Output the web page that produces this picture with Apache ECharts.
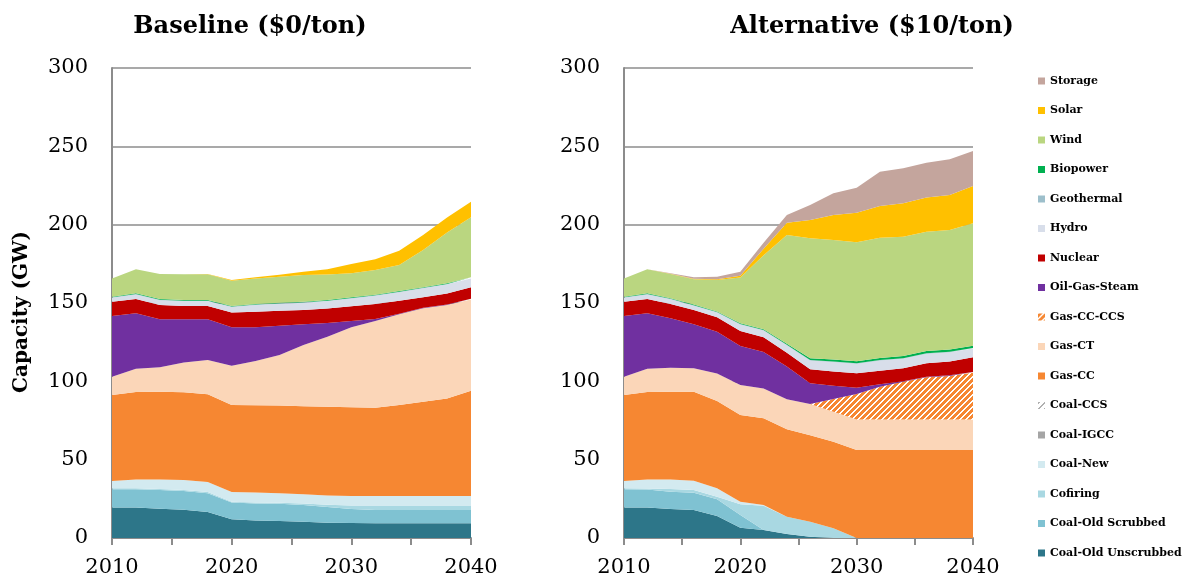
<!DOCTYPE html>
<html>
<head>
<meta charset="utf-8">
<title>Capacity (GW)</title>
<script src="https://cdn.jsdelivr.net/npm/echarts@6/dist/echarts.min.js"></script>
<style>
  html, body { margin: 0; padding: 0; background: #fff; }
  #chart { width: 1188px; height: 581px; }
</style>
</head>
<body>
<div id="chart"></div>
<script>
// Model years, every two years
const years = [2010, 2012, 2014, 2016, 2018, 2020, 2022, 2024, 2026, 2028, 2030, 2032, 2034, 2036, 2038, 2040];
const zeros = years.map(() => 0);

// Baseline ($0/ton) capacity by technology, GW
const unscrubbedBase = [19.4, 19.4, 18.7, 18.1, 16.6, 11.9, 11.1, 10.9, 10.4, 9.8, 9.6, 9.4, 9.4, 9.4, 9.4, 9.4];
const scrubbedBase   = [11.7, 11.7, 11.9, 11.9, 11.9, 10.8, 11.0, 11.0, 10.6, 10.0, 8.9, 8.5, 8.5, 8.5, 8.5, 8.5];
const cofiringBase   = [0.6, 0.6, 0.6, 0.7, 0.8, 0.5, 0.5, 0.6, 1.0, 1.5, 2.3, 2.9, 2.9, 2.9, 2.9, 2.9];
const coalNewBase    = [4.7, 5.7, 6.2, 6.3, 6.4, 6.2, 6.4, 6.0, 5.9, 5.9, 6.0, 6.0, 6.0, 6.0, 6.0, 6.0];
const igccBase       = zeros;
const coalCcsBase    = zeros;
const gasCcBase      = [54.9, 55.8, 56.0, 56.0, 56.0, 55.5, 55.7, 56.0, 56.2, 56.6, 56.6, 56.4, 58.1, 60.2, 62.3, 67.2];
const gasCtBase      = [11.7, 14.8, 15.6, 19.0, 21.9, 25.1, 28.3, 32.3, 39.1, 44.7, 51.1, 55.3, 57.9, 59.6, 59.6, 58.3];
const gasCcsBase     = zeros;
const ogsBase        = [38.7, 35.4, 30.6, 27.6, 26.0, 24.5, 21.5, 18.7, 13.2, 8.8, 4.0, 1.3, 0.4, 0.3, 0.4, 0.4];
const nuclearBase    = [9.1, 9.1, 9.1, 8.5, 8.5, 9.5, 9.9, 9.5, 9.1, 9.2, 9.5, 9.5, 8.2, 6.8, 7.0, 7.4];
const hydroBase      = [2.5, 3.0, 3.1, 3.1, 3.1, 3.4, 4.3, 4.5, 4.6, 4.7, 4.9, 5.3, 5.5, 5.7, 5.8, 5.6];
const geoBase        = [0.3, 0.3, 0.3, 0.3, 0.3, 0.3, 0.3, 0.3, 0.3, 0.3, 0.3, 0.3, 0.3, 0.3, 0.3, 0.3];
const bioBase        = [0.4, 0.4, 0.4, 0.4, 0.4, 0.4, 0.4, 0.4, 0.4, 0.4, 0.4, 0.4, 0.4, 0.4, 0.4, 0.4];
const windBase       = [11.7, 15.3, 16.0, 16.4, 16.4, 16.1, 16.3, 16.6, 17.1, 16.3, 15.4, 15.7, 16.7, 23.7, 32.4, 38.3];
const solarBase      = [0, 0, 0, 0, 0.2, 0.5, 0.8, 1.3, 2.0, 3.3, 5.9, 6.9, 9.1, 9.6, 9.5, 10.0];
const storageBase    = zeros;

// Alternative ($10/ton) capacity by technology, GW
const unscrubbedAlt = [19.4, 19.4, 18.5, 17.9, 14.0, 6.6, 5.1, 2.6, 0.8, 0, 0, 0, 0, 0, 0, 0];
const scrubbedAlt   = [11.7, 11.5, 11.1, 11.0, 10.7, 8.1, 0, 0, 0, 0, 0, 0, 0, 0, 0, 0];
const cofiringAlt   = [0.6, 0.7, 1.7, 1.7, 1.7, 6.8, 15.5, 11.0, 9.6, 6.2, 0, 0, 0, 0, 0, 0];
const coalNewAlt    = [4.7, 5.7, 6.1, 6.0, 5.3, 1.7, 0.5, 0, 0, 0, 0, 0, 0, 0, 0, 0];
const igccAlt       = zeros;
const coalCcsAlt    = zeros;
const gasCcAlt      = [54.9, 55.9, 56.0, 56.8, 55.7, 55.3, 55.3, 55.8, 55.2, 55.3, 56.2, 56.2, 56.2, 56.2, 56.2, 56.2];
const gasCtAlt      = [11.7, 14.8, 15.3, 14.9, 17.6, 19.2, 19.1, 19.1, 19.9, 19.1, 19.5, 19.5, 19.5, 19.5, 19.5, 19.5];
const gasCcsAlt     = [0, 0, 0, 0, 0, 0, 0, 0, 0, 8.1, 16.2, 20.9, 24.1, 26.9, 27.7, 29.8];
const ogsAlt        = [38.7, 35.4, 31.5, 28.1, 26.7, 24.9, 23.2, 20.9, 13.2, 8.5, 4.0, 1.6, 0.3, 0.3, 0.5, 0.5];
const nuclearAlt    = [9.1, 9.1, 9.2, 9.1, 9.2, 9.5, 9.4, 8.8, 9.0, 9.0, 9.2, 8.6, 8.2, 8.6, 8.7, 9.3];
const hydroAlt      = [2.5, 3.0, 3.0, 2.8, 3.0, 4.2, 4.4, 4.9, 5.6, 6.1, 6.1, 6.5, 6.2, 6.1, 6.0, 5.6];
const geoAlt        = [0.3, 0.3, 0.3, 0.3, 0.3, 0.3, 0.3, 0.3, 0.3, 0.3, 0.3, 0.3, 0.3, 0.3, 0.3, 0.3];
const bioAlt        = [0.4, 0.4, 0.4, 0.4, 0.4, 0.4, 0.4, 0.6, 1.2, 1.3, 1.3, 1.3, 1.4, 1.4, 1.4, 1.5];
const windAlt       = [11.7, 15.3, 15.4, 16.1, 20.1, 29.2, 47.3, 69.4, 76.5, 76.3, 75.9, 76.8, 76.1, 76.2, 76.3, 78.2];
const solarAlt      = [0, 0, 0.2, 0.3, 0.5, 1.2, 4.2, 7.9, 11.7, 16.0, 18.9, 20.2, 21.3, 21.9, 22.4, 23.8];
const storageAlt    = [0, 0, 0.3, 1.0, 1.6, 2.6, 3.8, 4.9, 9.6, 13.8, 16.0, 21.9, 22.4, 22.2, 22.7, 22.3];

// Technology names, bottom of the stack first
const techNames = ['Coal-Old Unscrubbed', 'Coal-Old Scrubbed', 'Cofiring', 'Coal-New', 'Coal-IGCC', 'Coal-CCS',
  'Gas-CC', 'Gas-CT', 'Gas-CC-CCS', 'Oil-Gas-Steam', 'Nuclear', 'Hydro', 'Geothermal', 'Biopower',
  'Wind', 'Solar', 'Storage'];
const baseSeries = [unscrubbedBase, scrubbedBase, cofiringBase, coalNewBase, igccBase, coalCcsBase,
  gasCcBase, gasCtBase, gasCcsBase, ogsBase, nuclearBase, hydroBase, geoBase, bioBase,
  windBase, solarBase, storageBase];
const altSeries = [unscrubbedAlt, scrubbedAlt, cofiringAlt, coalNewAlt, igccAlt, coalCcsAlt,
  gasCcAlt, gasCtAlt, gasCcsAlt, ogsAlt, nuclearAlt, hydroAlt, geoAlt, bioAlt,
  windAlt, solarAlt, storageAlt];
const panelTitles = ['Baseline ($0/ton)', 'Alternative ($10/ton)'];

// Diagonal "/" hatch tile for the CCS technologies, painted pixel by pixel
function hatch(rgb, period, width) {
  const c = document.createElement('canvas');
  c.width = period; c.height = period;
  const g = c.getContext('2d');
  const img = g.createImageData(period, period);
  for (let y = 0; y < period; y++) {
    for (let x = 0; x < period; x++) {
      const on = ((x + y) % period) < width;
      const p = (y * period + x) * 4;
      img.data[p]     = on ? rgb[0] : 255;
      img.data[p + 1] = on ? rgb[1] : 255;
      img.data[p + 2] = on ? rgb[2] : 255;
      img.data[p + 3] = 255;
    }
  }
  g.putImageData(img, 0, 0);
  return { image: c, repeat: 'repeat' };
}

const techColors = {
  'Coal-Old Unscrubbed': '#2d7689',
  'Coal-Old Scrubbed': '#7fc2d2',
  'Cofiring': '#a9d8e2',
  'Coal-New': '#d3eaf0',
  'Coal-IGCC': '#a5a5a5',
  'Coal-CCS': hatch([176, 176, 176], 6, 2),
  'Gas-CC': '#f68732',
  'Gas-CT': '#fbd6b8',
  'Gas-CC-CCS': hatch([246, 135, 50], 6, 4),
  'Oil-Gas-Steam': '#7030a0',
  'Nuclear': '#c00000',
  'Hydro': '#d8deea',
  'Geothermal': '#9dbfcb',
  'Biopower': '#00b050',
  'Wind': '#bad680',
  'Solar': '#ffc000',
  'Storage': '#c4a59d'
};

const FONT = '"DejaVu Serif", Georgia, serif';
const AXIS_GREY = '#8c8c8c';

// Stacked areas sit on a category axis of the model years (xAxis 0 and 1)
function makeSeries(panel, valuesList) {
  return techNames.map((name, i) => ({
    name: name,
    type: 'line',
    xAxisIndex: panel,
    yAxisIndex: panel,
    stack: 'panel' + panel,
    symbol: 'none',
    showSymbol: false,
    silent: true,
    animation: false,
    lineStyle: { width: 0, opacity: 0 },
    itemStyle: { color: techColors[name] },
    areaStyle: { color: techColors[name], opacity: 1 },
    data: valuesList[i]
  }));
}

const grids = [
  { left: 112, top: 68, width: 359, height: 470 },
  { left: 624, top: 68, width: 349, height: 470 }
];

const categoryAxes = grids.map((g, i) => ({
  type: 'category', gridIndex: i, data: years.map(String), boundaryGap: false,
  show: false, position: 'bottom'
}));

// Visible year scale with a tick every five years
const yearAxes = grids.map((g, i) => ({
  type: 'value', gridIndex: i, min: 2010, max: 2040, interval: 5, position: 'bottom',
  axisLine: { show: true, lineStyle: { color: AXIS_GREY, width: 2 } },
  axisTick: { show: true, inside: false, length: 7, lineStyle: { color: AXIS_GREY, width: 2 } },
  splitLine: { show: false },
  axisLabel: {
    margin: 19, color: '#000', fontFamily: FONT, fontSize: 21,
    formatter: v => (v % 10 === 0 ? String(v) : '')
  }
}));

const yAxes = grids.map((g, i) => ({
  type: 'value', gridIndex: i, min: 0, max: 300, interval: 50,
  axisLine: { show: true, lineStyle: { color: AXIS_GREY, width: 2 } },
  axisTick: { show: false },
  splitLine: { show: true, lineStyle: { color: AXIS_GREY, width: 1.6 } },
  axisLabel: { margin: 24, color: '#000', fontFamily: FONT, fontSize: 21 }
}));

const legendNames = techNames.slice().reverse();

const option = {
  backgroundColor: '#ffffff',
  animation: false,
  title: [
    { text: panelTitles[0], left: 250, top: 15, padding: 0, textAlign: 'center',
      textStyle: { fontFamily: FONT, fontWeight: 'bold', fontSize: 24, color: '#000' } },
    { text: panelTitles[1], left: 872, top: 15, padding: 0, textAlign: 'center',
      textStyle: { fontFamily: FONT, fontWeight: 'bold', fontSize: 24, color: '#000' } }
  ],
  grid: grids,
  xAxis: categoryAxes.concat(yearAxes),
  yAxis: yAxes,
  legend: {
    orient: 'vertical',
    left: 1038,
    top: 74,
    padding: 0,
    itemWidth: 7,
    itemHeight: 7,
    itemGap: 15.5,
    selectedMode: false,
    icon: 'rect',
    textStyle: { fontFamily: FONT, fontWeight: 'bold', fontSize: 11, color: '#000', lineHeight: 14 },
    data: legendNames.map(n => ({ name: n, icon: 'rect', itemStyle: { color: techColors[n], opacity: 1 } }))
  },
  graphic: [{
    type: 'text',
    x: 22,
    y: 312,
    rotation: Math.PI / 2,
    style: {
      text: 'Capacity (GW)',
      font: 'bold 20px ' + FONT,
      fill: '#000',
      align: 'center', verticalAlign: 'middle',
      textAlign: 'center', textVerticalAlign: 'middle'
    }
  }],
  series: makeSeries(0, baseSeries).concat(makeSeries(1, altSeries))
};

const chart = echarts.init(document.getElementById('chart'), null, { renderer: 'canvas' });
chart.setOption(option);
</script>
</body>
</html>
